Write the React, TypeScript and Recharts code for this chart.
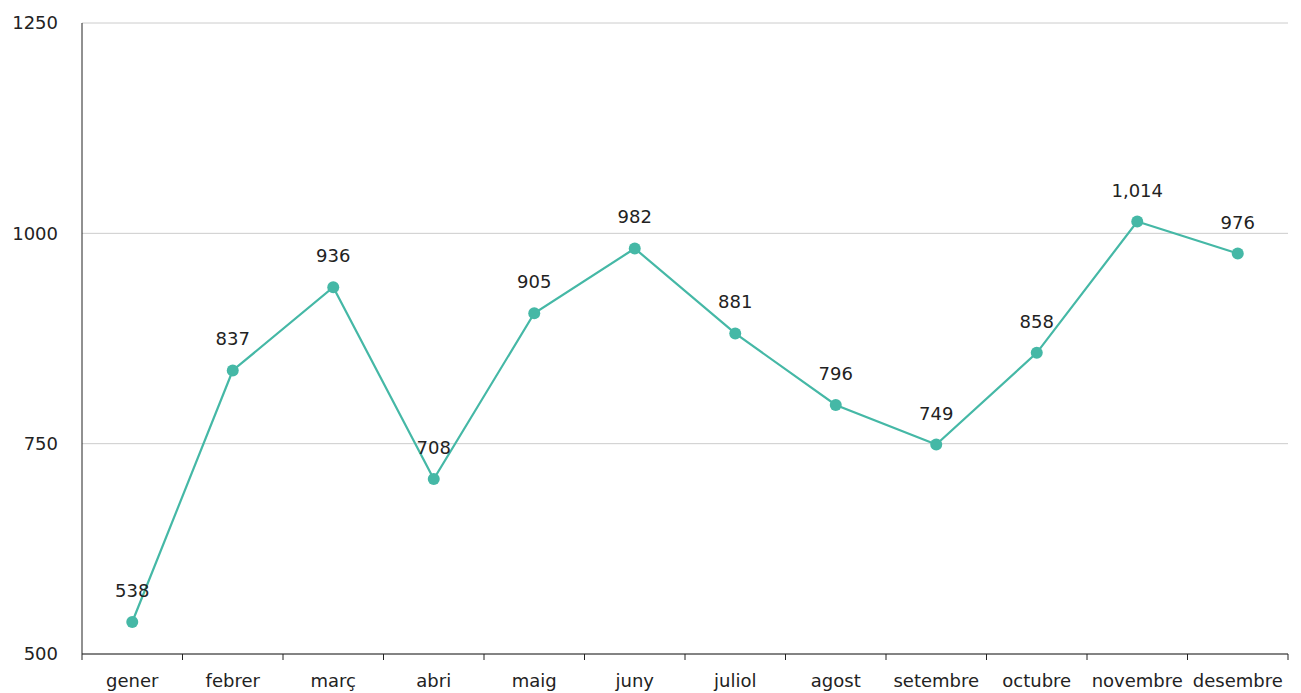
import React from 'react';
import { LineChart, Line, XAxis, YAxis, CartesianGrid, LabelList } from 'recharts';

const months = ['gener', 'febrer', 'març', 'abri', 'maig', 'juny', 'juliol', 'agost', 'setembre', 'octubre', 'novembre', 'desembre'];
const values = [538, 837, 936, 708, 905, 982, 881, 796, 749, 858, 1014, 976];
const yTicks = [500, 750, 1000, 1250];

const data = months.map((m, i) => ({ month: m, value: values[i] }));

const FONT = '"DejaVu Sans", sans-serif';
const TEAL = '#45b8a6';

const MonthTick = (props: any) => {
  const { x, y, payload, index } = props;
  const half = payload.offset ?? 50;
  const axisY = y - 8;
  return (
    <g>
      <line x1={x - half} y1={axisY} x2={x - half} y2={axisY + 6} stroke="#222" />
      {index === months.length - 1 && (
        <line x1={x + half} y1={axisY} x2={x + half} y2={axisY + 6} stroke="#222" />
      )}
      <text x={x} y={y + 25} textAnchor="middle" fill="#222" fontSize={18} fontFamily={FONT}>
        {payload.value}
      </text>
    </g>
  );
};

export default function App() {
  return (
    <div style={{ position: 'absolute', left: 0, top: 0 }}>
      <LineChart width={1301} height={693} data={data} margin={{ top: 23, right: 13, bottom: 0, left: 0 }}>
        <CartesianGrid vertical={false} stroke="#cccccc" />
        <XAxis
          dataKey="month"
          scale="band"
          axisLine={{ stroke: '#222' }}
          tickLine={false}
          tick={<MonthTick />}
          interval={0}
          height={39}
        />
        <YAxis
          domain={[500, 1250]}
          ticks={yTicks}
          width={82}
          axisLine={{ stroke: '#222' }}
          tickLine={false}
          tickSize={6}
          tickMargin={18}
          tick={{ fill: '#222', fontSize: 18, fontFamily: FONT }}
        />
        <Line
          dataKey="value"
          stroke={TEAL}
          strokeWidth={2.2}
          dot={{ r: 6, fill: TEAL, stroke: TEAL, strokeWidth: 0 }}
          isAnimationActive={false}
        >
          <LabelList
            dataKey="value"
            position="top"
            offset={25}
            formatter={(v: any) => Number(v).toLocaleString('en-US')}
            style={{ fill: '#222', fontSize: 18, fontFamily: FONT }}
          />
        </Line>
      </LineChart>
    </div>
  );
}
